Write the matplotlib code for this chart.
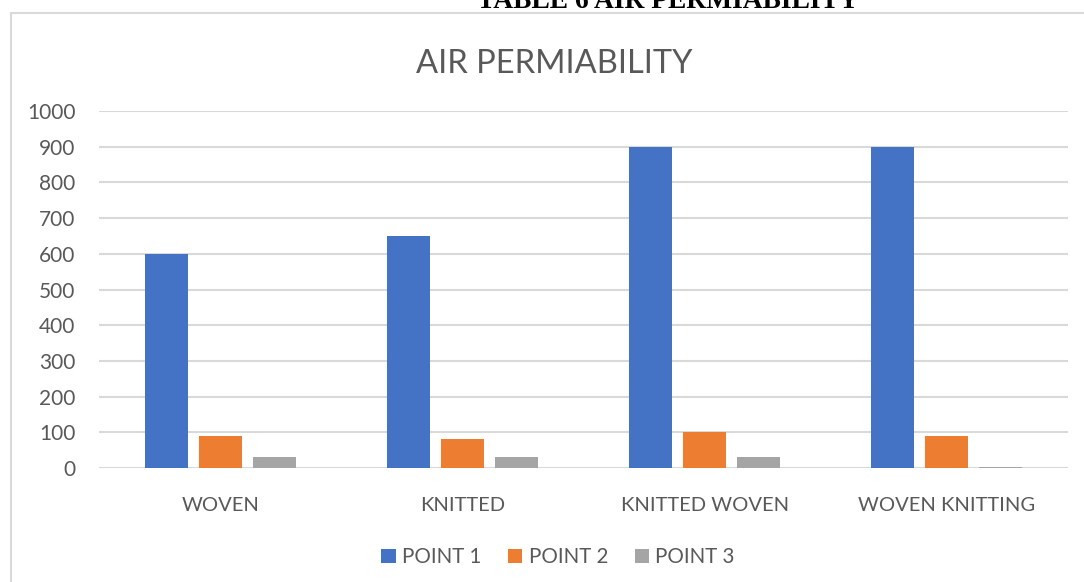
import matplotlib.pyplot as plt
from matplotlib.patches import Rectangle
import numpy as np

categories = ["WOVEN", "KNITTED", "KNITTED WOVEN", "WOVEN KNITTING"]
point1 = [600, 650, 900, 900]
point2 = [90, 80, 100, 90]
point3 = [30, 30, 30, 3]
series_names = ["POINT 1", "POINT 2", "POINT 3"]
colors = ["#4472c4", "#ed7d31", "#a5a5a5"]

W, H = 1084, 582
plt.rcParams['font.family'] = ['Lato', 'DejaVu Sans']
txt = "#595959"

fig = plt.figure(figsize=(W / 100, H / 100), dpi=100)
ax = fig.add_axes([99 / W, 1 - 468 / H, (1068 - 99) / W, (468 - 111) / H])

x = np.arange(len(categories))
bw = 0.177
step = 0.223
for i, (vals, c, name) in enumerate(zip([point1, point2, point3], colors, series_names)):
    ax.bar(x + (i - 1) * step, vals, width=bw, color=c, label=name, zorder=3)

ax.set_xlim(-0.5, 3.5)
ax.set_ylim(0, 1000)
ax.set_yticks(range(0, 1001, 100))
ax.set_xticks(x)
ax.set_xticklabels(categories)
ax.grid(axis='y', color="#d9d9d9", linewidth=1.5, zorder=0)
for s in ax.spines.values():
    s.set_visible(False)
ax.tick_params(axis='y', length=0, labelsize=15, labelcolor=txt, pad=17)
ax.tick_params(axis='x', length=0, labelsize=14.5, labelcolor=txt, pad=21)

fig.text(554 / W, 1 - 64 / H, "AIR PERMIABILITY", ha='center', va='center',
         fontsize=23.5, color=txt)

leg = fig.legend(loc='center', bbox_to_anchor=(558 / W, 1 - 557 / H), ncol=3,
                 frameon=False, fontsize=14.8, handlelength=0.7, handleheight=0.7,
                 handletextpad=0.3, columnspacing=1.3)
for t in leg.get_texts():
    t.set_color(txt)

# outer chart border (partly cut off)
fig.patches.append(Rectangle((10.5 / W, -0.1), 1.2, 1 - 12.5 / H + 0.1,
                             transform=fig.transFigure, fill=False,
                             edgecolor="#d9d9d9", linewidth=1.5))

# cut-off heading above the chart
fig.text(668 / W, 1 - 8 / H, "TABLE 6 AIR PERMIABILITY", ha='center', va='baseline',
         fontsize=19.8, fontweight='bold', family=['Liberation Serif'], color='black')

fig.savefig("out.png", dpi=100)
